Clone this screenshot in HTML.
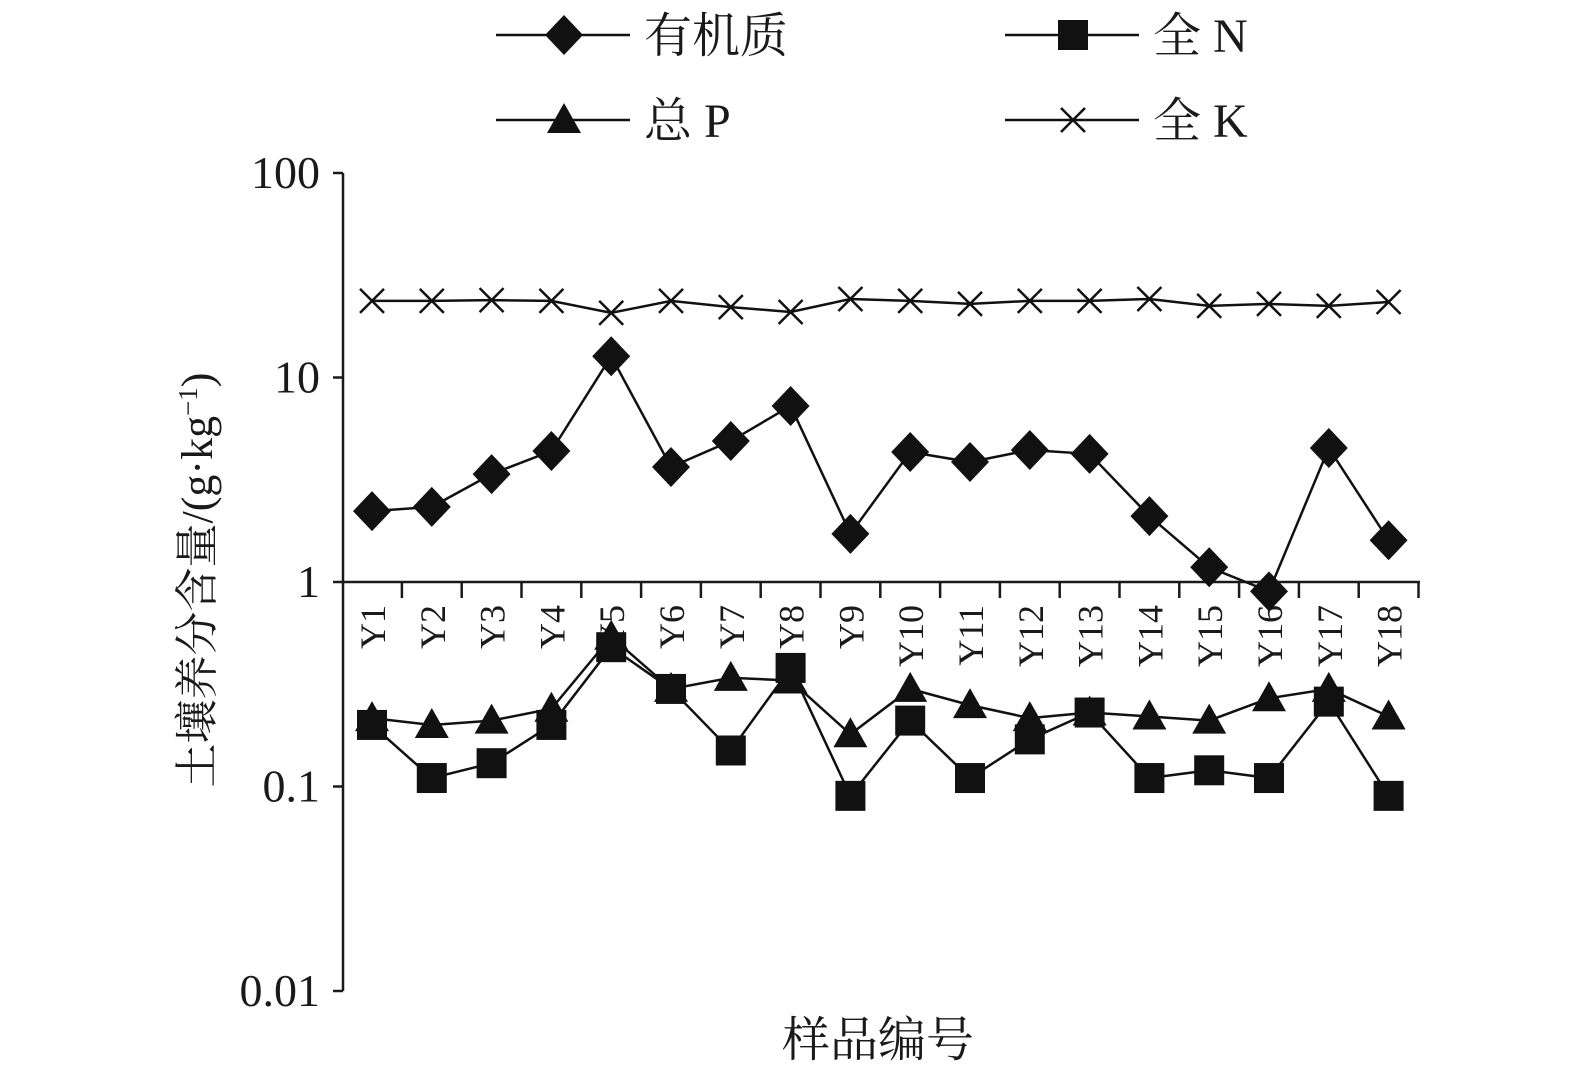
<!DOCTYPE html>
<html><head><meta charset="utf-8"><style>
html,body{margin:0;padding:0;background:#fff;}
svg text{font-family:"Liberation Serif","Noto Serif CJK SC",serif;fill:#1a1a1a;}
</style></head><body>
<svg id="chart" width="1575" height="1083" xmlns="http://www.w3.org/2000/svg">
<g id="axes"></g><g id="series"></g><g id="legend"></g>
</svg>
<script>
const categories=["Y1","Y2","Y3","Y4","Y5","Y6","Y7","Y8","Y9","Y10","Y11","Y12","Y13","Y14","Y15","Y16","Y17","Y18"];
const organic=[2.22,2.33,3.37,4.37,12.7,3.65,4.89,7.26,1.72,4.32,3.86,4.42,4.23,2.10,1.18,0.90,4.52,1.60];
const totalN=[0.20,0.11,0.13,0.20,0.48,0.30,0.15,0.38,0.09,0.21,0.11,0.17,0.23,0.11,0.12,0.11,0.26,0.09];
const totalP=[0.216,0.20,0.21,0.24,0.54,0.30,0.34,0.33,0.18,0.30,0.25,0.216,0.23,0.22,0.21,0.27,0.30,0.22];
const totalK=[23.7,23.7,23.9,23.7,20.7,23.7,22.1,20.9,24.2,23.7,22.9,23.7,23.7,24.2,22.4,22.9,22.4,23.4];
const yTicks=[100,10,1,0.1,0.01];
const yTickLabels=["100","10","1","0.1","0.01"];
const NS="http://www.w3.org/2000/svg";
function yS(v){return 582-Math.log10(v)*204.5;}
function xS(i){return 372+i*59.8;}
function mk(tag,attrs,parent,text){const e=document.createElementNS(NS,tag);for(const k in attrs)e.setAttribute(k,attrs[k]);if(text!==undefined)e.textContent=text;parent.appendChild(e);return e;}
const axes=document.getElementById('axes'),ser=document.getElementById('series'),leg=document.getElementById('legend');
let a=mk('line',{x1:343,y1:yS(100),x2:343,y2:yS(0.01),stroke:'#1a1a1a','stroke-width':2.5},axes);

a=mk('line',{x1:343,y1:582,x2:1420,y2:582,stroke:'#1a1a1a','stroke-width':2.5},axes);

yTicks.forEach((v,i)=>{
  const t=mk('line',{x1:333,y1:yS(v),x2:343,y2:yS(v),stroke:'#1a1a1a','stroke-width':2.5},axes);
  
  const l=mk('text',{x:320,y:yS(v)+15,'text-anchor':'end','font-size':46},axes,yTickLabels[i]);
  
});
categories.forEach((c,i)=>{
  const t=mk('line',{x1:xS(i)+29.9,y1:582,x2:xS(i)+29.9,y2:598,stroke:'#1a1a1a','stroke-width':2.5},axes);
  
  const l=mk('text',{x:0,y:0,'font-size':36,'text-anchor':'end',transform:`translate(${xS(i)+13},605) rotate(-90)`},axes,c);
  
});
let yt=mk('text',{x:0,y:0,'text-anchor':'middle','font-size':44,transform:'translate(212,580) rotate(-90)'},axes);
yt.innerHTML='土壤养分含量/(g·kg<tspan dy="-15" font-size="27">−1</tspan><tspan dy="15">)</tspan>';

let xt=mk('text',{x:878,y:1056,'text-anchor':'middle','font-size':48},axes,'样品编号');

function marker(type,x,y,p){
  let e;
  if(type==='d')e=mk('polygon',{points:`${x},${y-20} ${x+19},${y} ${x},${y+20} ${x-19},${y}`,fill:'#111'},p);
  else if(type==='s')e=mk('rect',{x:x-15,y:y-15,width:30,height:30,fill:'#111'},p);
  else if(type==='t')e=mk('polygon',{points:`${x},${y-17} ${x+17},${y+13} ${x-17},${y+13}`,fill:'#111'},p);
  else e=mk('path',{d:`M${x-12},${y-12}L${x+12},${y+12}M${x+12},${y-12}L${x-12},${y+12}`,stroke:'#111','stroke-width':2.5,fill:'none'},p);
  return e;
}
function series(vals,type,name){
  const g=mk('g',{},ser);
  const pl=mk('polyline',{points:vals.map((v,i)=>xS(i)+','+yS(v)).join(' '),fill:'none',stroke:'#111','stroke-width':2.5},g);
  
  vals.forEach((v,i)=>{const m=marker(type,xS(i),yS(v),g);
    });
}
series(totalK,'x','total-k');
series(totalP,'t','total-p');
series(totalN,'s','total-n');
series(organic,'d','organic-matter');
function legendItem(x,y,type,label,name){
  const g=mk('g',{},leg);
  mk('line',{x1:x,y1:y,x2:x+134,y2:y,stroke:'#111','stroke-width':2.5},g);
  marker(type,x+68,y,g);
  mk('text',{x:x+148,y:y+17,'font-size':48},g,label);
}
legendItem(496,35,'d','有机质','organic-matter');
legendItem(1005,35,'s','全 N','total-n');
legendItem(496,120,'t','总 P','total-p');
legendItem(1005,120,'x','全 K','total-k');
</script>
</body></html>
